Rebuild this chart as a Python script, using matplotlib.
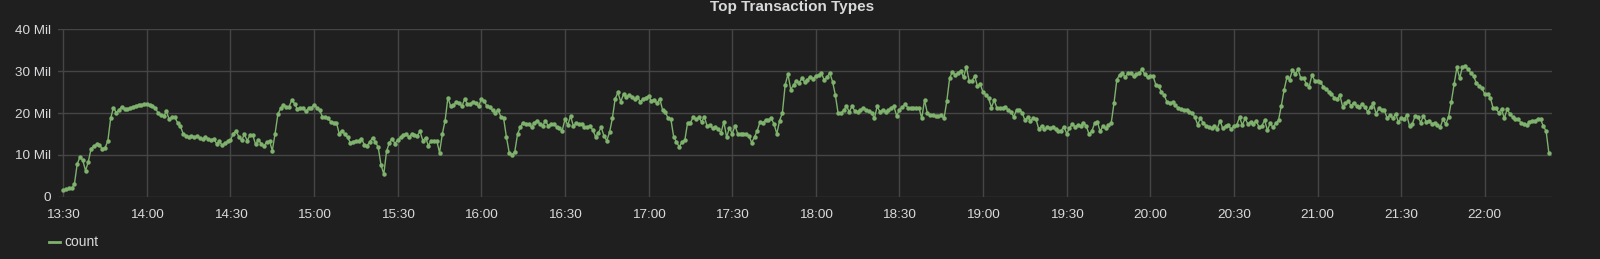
import matplotlib
matplotlib.use("Agg")
import matplotlib.pyplot as plt
import matplotlib.dates as mdates
from matplotlib.lines import Line2D
from matplotlib.ticker import FuncFormatter, MultipleLocator
import pandas as pd

# per-minute counts, in millions
h13 = [1.6, 1.8, 2.0, 2.0, 3.0, 7.8, 9.5, 8.7, 6.2, 8.4,
       11.5, 12.1, 12.5, 12.3, 11.5, 11.7, 13.3, 18.7, 21.3, 20.1,
       20.7, 21.5, 21.0, 21.0, 21.2, 21.5, 21.7, 21.9, 22.0, 22.1]
h14 = [22.1, 21.9, 21.6, 21.3, 20.0, 19.5, 19.2, 20.4, 18.5, 19.0,
       19.0, 17.7, 16.9, 15.1, 14.6, 14.2, 14.5, 14.3, 14.4, 14.0,
       13.8, 14.2, 13.7, 13.6, 13.8, 12.7, 13.2, 12.3, 12.8, 13.2,
       13.5, 15.1, 15.7, 14.3, 13.5, 14.9, 13.4, 14.7, 14.7, 12.5,
       13.6, 12.7, 12.1, 13.1, 13.3, 11.0, 15.1, 19.7, 21.1, 22.0,
       21.5, 21.5, 23.1, 22.2, 20.9, 21.2, 21.2, 20.4, 21.1, 21.2]
h15 = [22.0, 21.3, 20.6, 19.1, 19.1, 18.7, 17.9, 17.7, 17.7, 15.1,
       15.8, 14.9, 14.2, 12.9, 13.1, 13.4, 13.4, 13.9, 12.4, 12.2,
       13.1, 14.1, 13.1, 11.8, 7.6, 5.4, 10.9, 12.9, 13.9, 12.7,
       13.6, 14.2, 14.7, 15.1, 14.2, 14.9, 14.7, 14.6, 15.6, 13.4,
       14.1, 12.2, 13.4, 13.4, 13.4, 10.5, 15.0, 18.2, 23.7, 21.6,
       21.9, 22.7, 22.5, 21.6, 23.3, 22.2, 22.2, 22.7, 22.3, 21.6]
h16 = [23.3, 22.9, 21.6, 21.4, 20.6, 20.0, 20.8, 19.1, 18.7, 14.2,
       10.5, 10.0, 10.8, 15.0, 16.7, 17.7, 17.4, 17.4, 16.6, 17.7,
       18.2, 17.4, 16.9, 18.2, 16.9, 17.4, 17.4, 16.7, 16.3, 15.8,
       18.5, 17.1, 19.3, 16.9, 17.5, 17.4, 17.4, 16.6, 16.7, 16.9,
       15.9, 14.3, 15.3, 16.6, 14.5, 13.4, 15.4, 18.7, 23.4, 24.9,
       22.7, 24.5, 23.9, 24.3, 23.9, 23.3, 23.9, 22.7, 23.3, 23.7]
h17 = [24.1, 22.9, 23.2, 22.3, 23.4, 20.8, 20.3, 18.7, 18.5, 14.3,
       13.1, 11.9, 13.1, 13.5, 17.7, 17.7, 19.0, 18.5, 19.0, 17.9,
       19.1, 16.9, 17.1, 16.3, 16.7, 16.1, 15.3, 17.9, 14.2, 16.5,
       15.0, 17.0, 15.0, 15.1, 15.1, 15.0, 14.5, 12.9, 14.3, 15.8,
       17.9, 17.7, 18.3, 18.3, 18.7, 17.4, 15.0, 18.2, 20.0, 26.7,
       29.3, 25.6, 26.7, 27.7, 27.2, 28.3, 27.4, 28.0, 28.7, 28.2]
h18 = [28.8, 29.1, 29.5, 27.9, 28.5, 29.6, 27.5, 24.3, 19.9, 19.9,
       20.7, 21.6, 20.3, 21.6, 20.5, 20.3, 20.8, 21.1, 20.8, 20.5,
       20.1, 18.7, 21.6, 20.3, 20.8, 20.3, 20.7, 21.3, 21.6, 19.3,
       20.8, 21.4, 22.1, 21.3, 21.1, 21.3, 21.3, 21.3, 18.7, 23.1,
       20.0, 19.5, 19.5, 19.3, 19.3, 19.5, 18.7, 22.9, 28.3, 29.9,
       29.1, 29.6, 30.1, 28.5, 31.1, 27.7, 27.7, 28.8, 26.4, 26.9]
h19 = [24.9, 24.3, 23.5, 21.3, 23.1, 21.1, 21.1, 21.1, 21.4, 20.7,
       20.3, 19.1, 20.7, 20.8, 20.1, 18.3, 19.0, 18.2, 18.7, 18.5,
       16.1, 16.9, 16.1, 16.6, 16.3, 16.7, 16.1, 15.8, 15.8, 16.7,
       15.1, 16.3, 17.4, 16.7, 17.1, 16.9, 17.7, 16.9, 15.0, 15.6,
       17.5, 17.9, 15.6, 16.9, 16.3, 17.1, 17.7, 22.5, 28.0, 29.1,
       29.6, 28.5, 29.6, 29.5, 28.8, 29.3, 29.6, 30.4, 29.3, 28.5]
h20 = [28.8, 28.8, 26.7, 26.4, 25.0, 24.2, 22.6, 22.3, 22.6, 21.8,
       21.2, 21.0, 20.8, 20.6, 20.3, 20.0, 19.0, 17.2, 18.8, 17.5,
       17.0, 16.7, 16.3, 17.0, 16.2, 18.2, 16.3, 16.9, 17.1, 16.1,
       16.9, 17.1, 19.0, 17.1, 18.7, 17.4, 17.9, 17.4, 18.2, 16.6,
       16.9, 18.3, 15.9, 17.5, 16.6, 17.5, 18.3, 21.7, 25.5, 28.5,
       28.0, 30.3, 29.3, 30.4, 28.3, 28.3, 26.9, 26.3, 29.1, 27.7]
h21 = [27.7, 27.5, 26.3, 25.7, 25.1, 24.5, 23.7, 23.3, 24.3, 21.5,
       22.3, 22.9, 21.7, 22.5, 21.7, 21.4, 22.2, 21.4, 20.3, 21.4,
       22.3, 19.8, 21.1, 20.6, 20.6, 18.7, 19.5, 18.7, 19.8, 17.9,
       18.7, 18.5, 19.5, 16.9, 17.4, 19.3, 19.1, 17.7, 19.3, 17.9,
       18.2, 17.4, 17.7, 17.1, 16.6, 18.5, 17.4, 19.1, 22.7, 26.9,
       30.9, 28.3, 31.1, 31.2, 30.4, 29.6, 28.8, 27.1, 26.5, 25.9]
h22 = [24.5, 24.5, 23.7, 21.1, 21.1, 20.1, 20.9, 18.7, 20.9, 19.8,
       19.0, 18.5, 18.5, 17.7, 17.4, 17.1, 17.9, 18.2, 18.2, 18.5,
       18.5, 16.9, 15.7, 10.4]

start = "2018-01-01 13:30"
series_name = "count"
title = "Top Transaction Types"

BG = "#1f1f1f"
TXT = "#d8d9da"
GRID = "#454545"
GREEN = "#7eb26d"

plt.rcParams['font.family'] = ['Liberation Sans', 'DejaVu Sans']

vals = h13 + h14 + h15 + h16 + h17 + h18 + h19 + h20 + h21 + h22
counts = [v * 1e6 for v in vals]
times = pd.date_range(start, periods=len(counts), freq="min")

fig = plt.figure(figsize=(16, 2.59), dpi=100, facecolor=BG)
ax = fig.add_axes([0.0364, 0.2405, 0.9334, 0.6464], facecolor=BG)

ax.plot(times, counts, color=GREEN, lw=1, marker="o", ms=3.2, mew=0)

t0 = pd.Timestamp(start)
ax.set_xlim(t0 - pd.Timedelta(minutes=1.8), t0 + pd.Timedelta(minutes=534))
ax.set_ylim(0, 40e6)

ax.yaxis.set_major_locator(MultipleLocator(10e6))
ax.yaxis.set_major_formatter(FuncFormatter(lambda v, p: "0" if v == 0 else "%d Mil" % round(v / 1e6)))
ax.xaxis.set_major_locator(mdates.MinuteLocator(byminute=[0, 30]))
ax.xaxis.set_major_formatter(mdates.DateFormatter("%H:%M"))

ax.grid(True, color=GRID, lw=1)
ax.set_axisbelow(True)
for s in ax.spines.values():
    s.set_visible(False)
ax.tick_params(length=0, colors=TXT, labelsize=9.7)
ax.tick_params(axis="y", pad=5)
ax.tick_params(axis="x", pad=9)

fig.text(792 / 1600, 1 - 7 / 259, title, color=TXT, fontsize=11,
         fontweight="bold", ha="center", va="center")

# legend
fig.lines.append(Line2D([49 / 1600, 60 / 1600], [1 - 242 / 259] * 2,
                        transform=fig.transFigure, color=GREEN, lw=2))
fig.text(64 / 1600, 1 - 242 / 259, series_name, color=TXT, fontsize=10,
         ha="left", va="center")

fig.savefig("out.png", dpi=100, facecolor=BG)
